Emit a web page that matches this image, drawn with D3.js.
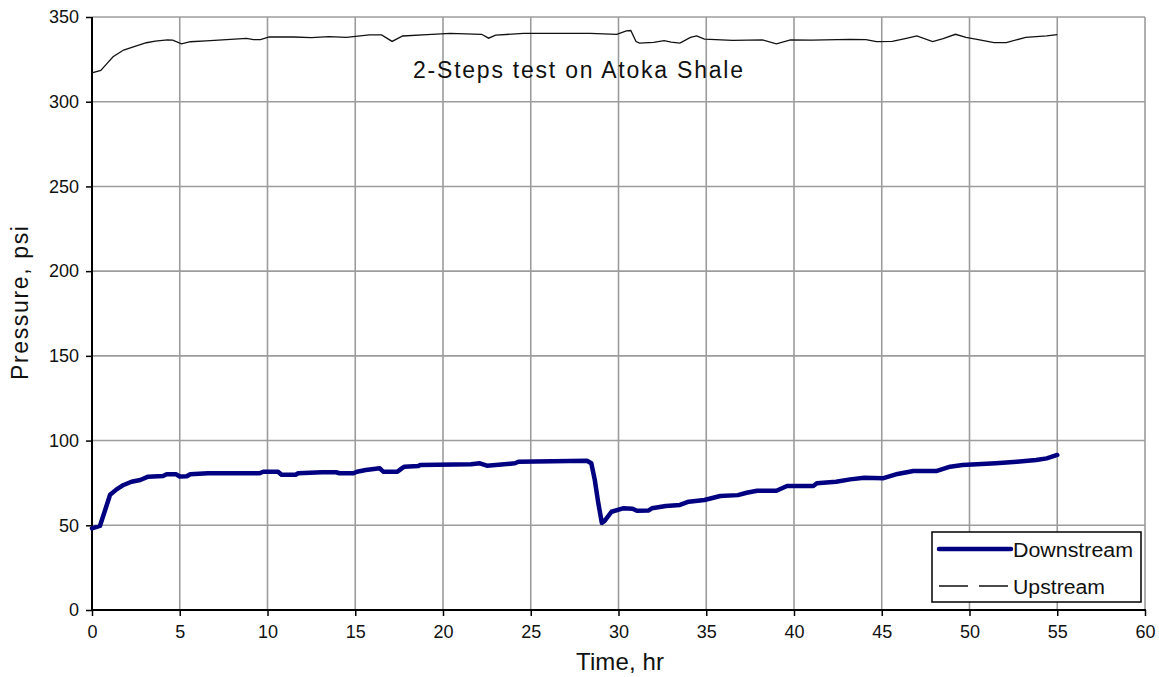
<!DOCTYPE html>
<html>
<head>
<meta charset="utf-8">
<script src="https://cdn.jsdelivr.net/npm/d3@7/dist/d3.min.js"></script>
<style>
  html, body { margin: 0; padding: 0; background: #fff; }
  svg { display: block; font-family: "Liberation Sans", Arial, sans-serif; }
</style>
</head>
<body>
<svg id="chart" width="1159" height="677"></svg>
<script>
// Upstream pressure record (hr, psi)
const upTime = [0, 0.5, 0.85, 1.2, 1.8, 2.4, 3.1, 3.6, 4.3, 4.6,
  5.1, 5.6, 6.5, 7.9, 8.8, 9.2, 9.6, 10.1, 11.5, 12.5,
  13.5, 14.5, 15.8, 16.5, 17.1, 17.7, 19.1, 20.4, 22.2, 22.6,
  23.0, 24.6, 28.4, 29.9, 30.45, 30.7, 31.0, 31.2, 32.0, 32.6,
  33.0, 33.5, 34.1, 34.45, 34.9, 36.5, 38.2, 39.0, 39.8, 41.0,
  43.2, 44.1, 44.7, 45.6, 46.4, 47.0, 47.9, 48.5, 49.2, 49.8,
  50.5, 51.4, 52.1, 53.2, 54.4, 55.0];
const upPressure = [317, 318.5, 322.5, 326.5, 330.5, 332.5, 334.8, 335.7, 336.5, 336.3,
  334.1, 335.4, 335.9, 336.8, 337.4, 336.6, 336.7, 338.3, 338.2, 337.8,
  338.4, 338.0, 339.4, 339.4, 335.6, 338.8, 339.6, 340.3, 339.8, 337.5,
  339.3, 340.3, 340.3, 339.8, 341.8, 342.0, 335.5, 334.6, 335.0, 336.0,
  335.2, 334.6, 338.0, 338.8, 336.9, 336.2, 336.5, 334.2, 336.5, 336.3,
  336.8, 336.6, 335.5, 335.6, 337.4, 338.8, 335.5, 337.3, 339.8, 338.0,
  336.6, 334.9, 334.9, 338.0, 338.8, 339.6];

// Downstream pressure record (hr, psi)
const downTime = [0, 0.45, 0.75, 1.03, 1.4, 1.8, 2.25, 2.75, 3.2, 4.05,
  4.25, 4.8, 5.0, 5.4, 5.6, 6.6, 9.55, 9.75, 10.6, 10.8,
  11.6, 11.75, 13.1, 13.9, 14.1, 14.9, 15.1, 15.6, 16.4, 16.6,
  17.4, 17.65, 17.8, 18.6, 18.7, 21.6, 22.1, 22.5, 23.0, 24.1,
  24.3, 28.2, 28.45, 28.65, 28.85, 29.05, 29.2, 29.6, 30.25, 30.8,
  31.05, 31.7, 31.9, 32.7, 33.5, 34.0, 34.9, 35.8, 36.8, 37.3,
  37.9, 39.0, 39.6, 41.1, 41.3, 42.4, 43.2, 44.0, 45.1, 45.9,
  46.8, 48.1, 48.9, 49.6, 51.5, 52.7, 53.8, 54.4, 55.0];
const downPressure = [48.2, 49.6, 59, 68, 71.2, 73.8, 75.7, 76.7, 78.7, 79.1,
  80.1, 80.1, 78.8, 78.9, 80.1, 80.7, 80.7, 81.6, 81.6, 79.8,
  79.8, 80.7, 81.3, 81.3, 80.7, 80.7, 81.6, 82.6, 83.6, 81.6,
  81.6, 83.6, 84.6, 85.0, 85.6, 86.0, 86.6, 85.2, 85.6, 86.6,
  87.5, 88.1, 86.6, 76.7, 63, 51.5, 52.5, 58, 60, 59.8,
  58.6, 58.7, 60, 61.4, 62, 63.9, 64.9, 67.3, 67.8, 69.2,
  70.4, 70.4, 73.2, 73.2, 74.8, 75.7, 77.1, 78.0, 77.8, 80.3,
  82, 82, 84.6, 85.6, 86.6, 87.5, 88.5, 89.5, 91.5];

const xTicks = [0, 5, 10, 15, 20, 25, 30, 35, 40, 45, 50, 55, 60];
const yTicks = [0, 50, 100, 150, 200, 250, 300, 350];

const titleText = "2-Steps test on Atoka Shale";
const xTitle = "Time, hr";
const yTitle = "Pressure, psi";
const seriesNames = ["Downstream", "Upstream"];

const svg = d3.select("#chart");
const plot = { left: 92, right: 1145, top: 17, bottom: 610 };

const x = d3.scaleLinear().domain([0, 60]).range([plot.left, plot.right]);
const y = d3.scaleLinear().domain([0, 350]).range([plot.bottom, plot.top]);

// grid
const grid = svg.append("g").attr("stroke", "#9c9c9c").attr("stroke-width", 1.6);
grid.selectAll("line.v").data(xTicks.filter(d => d > 0)).join("line")
  .attr("x1", d => x(d)).attr("x2", d => x(d))
  .attr("y1", plot.top).attr("y2", plot.bottom);
grid.selectAll("line.h").data(yTicks.filter(d => d > 0)).join("line")
  .attr("x1", plot.left).attr("x2", plot.right)
  .attr("y1", d => y(d)).attr("y2", d => y(d));

// axes
const xAxis = d3.axisBottom(x).tickValues(xTicks).tickSize(6).tickPadding(9).tickFormat(d3.format("d"));
const yAxis = d3.axisLeft(y).tickValues(yTicks).tickSize(6).tickPadding(7).tickFormat(d3.format("d"));

const gx = svg.append("g").attr("transform", `translate(0,${plot.bottom})`).call(xAxis);
const gy = svg.append("g").attr("transform", `translate(${plot.left},0)`).call(yAxis);
[gx, gy].forEach(g => {
  g.select(".domain").attr("stroke", "#000").attr("stroke-width", 2);
  g.selectAll(".tick line").attr("stroke", "#000").attr("stroke-width", 1.5);
  g.selectAll(".tick text").attr("fill", "#111").style("font-size", "18px")
    .style("font-family", "'Liberation Sans', Arial, sans-serif");
});
gx.select(".domain").attr("d", `M${plot.left},0H${plot.right + 1}`);
gy.select(".domain").attr("d", `M0,${plot.top}V${plot.bottom}`);

// series
const line = d3.line().x(d => x(d[0])).y(d => y(d[1]));
const upData = upTime.map((t, i) => [t, upPressure[i]]);
const downData = downTime.map((t, i) => [t, downPressure[i]]);

svg.append("path").datum(upData)
  .attr("fill", "none").attr("stroke", "#111").attr("stroke-width", 1.3)
  .attr("d", line);
svg.append("path").datum(downData)
  .attr("fill", "none").attr("stroke", "#000080").attr("stroke-width", 4.5)
  .attr("stroke-linejoin", "round").attr("stroke-linecap", "round")
  .attr("d", line);

// title
svg.append("text").attr("x", 413).attr("y", 78)
  .attr("textLength", 330).attr("lengthAdjust", "spacing")
  .style("font-size", "23px").attr("fill", "#111").text(titleText);

// axis titles
svg.append("text").attr("x", 576).attr("y", 670)
  .attr("textLength", 88).attr("lengthAdjust", "spacing")
  .style("font-size", "24px").attr("fill", "#111").text(xTitle);
svg.append("text").attr("transform", "translate(28,380) rotate(-90)")
  .attr("textLength", 154).attr("lengthAdjust", "spacing")
  .style("font-size", "23px").attr("fill", "#111").text(yTitle);

// legend
const lg = svg.append("g");
lg.append("rect").attr("x", 932).attr("y", 532).attr("width", 209).attr("height", 70)
  .attr("fill", "#fff").attr("stroke", "#000").attr("stroke-width", 1.5);
lg.append("line").attr("x1", 939).attr("x2", 1011).attr("y1", 549).attr("y2", 549)
  .attr("stroke", "#000080").attr("stroke-width", 4.5).attr("stroke-linecap", "round");
lg.append("line").attr("x1", 939).attr("x2", 1008).attr("y1", 586).attr("y2", 586)
  .attr("stroke", "#111").attr("stroke-width", 1.3).attr("stroke-dasharray", "29,11");
lg.append("text").attr("x", 1013).attr("y", 557).attr("textLength", 120)
  .attr("lengthAdjust", "spacingAndGlyphs").style("font-size", "20px").attr("fill", "#111").text(seriesNames[0]);
lg.append("text").attr("x", 1013).attr("y", 594).attr("textLength", 92)
  .attr("lengthAdjust", "spacingAndGlyphs").style("font-size", "20px").attr("fill", "#111").text(seriesNames[1]);
</script>
</body>
</html>
